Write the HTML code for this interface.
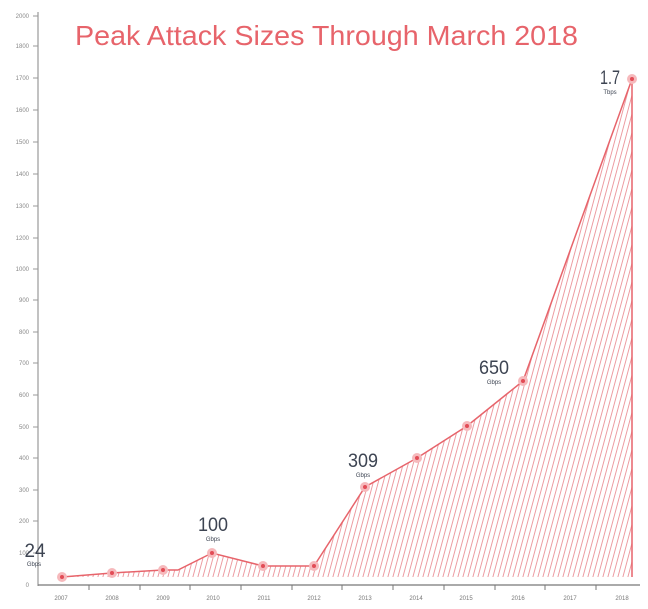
<!DOCTYPE html>
<html><head><meta charset="utf-8"><style>
html,body{margin:0;padding:0;background:#fff;}
svg{display:block;font-family:"Liberation Sans",sans-serif;}
</style></head><body>
<svg width="648" height="609" viewBox="0 0 648 609" xmlns="http://www.w3.org/2000/svg">
<defs>
<pattern id="h" patternUnits="userSpaceOnUse" width="5" height="20" patternTransform="skewX(-15)">
<line x1="2.5" y1="0" x2="2.5" y2="20" stroke="#ec9aa0" stroke-width="1"/>
</pattern>
</defs>
<rect width="648" height="609" fill="#fff"/>
<text x="75" y="45" font-size="28" fill="#e7646b" textLength="503" lengthAdjust="spacingAndGlyphs">Peak Attack Sizes Through March 2018</text>
<!-- axes -->
<line x1="38" y1="12" x2="38" y2="586" stroke="#999" stroke-width="1.2"/>
<line x1="38" y1="585" x2="640" y2="585" stroke="#777" stroke-width="1.2"/>
<g stroke="#999" stroke-width="1">
<line x1="33" y1="16" x2="38" y2="16"/><line x1="33" y1="46" x2="38" y2="46"/><line x1="33" y1="78" x2="38" y2="78"/><line x1="33" y1="110" x2="38" y2="110"/><line x1="33" y1="142" x2="38" y2="142"/><line x1="33" y1="174" x2="38" y2="174"/><line x1="33" y1="206" x2="38" y2="206"/><line x1="33" y1="238" x2="38" y2="238"/><line x1="33" y1="269" x2="38" y2="269"/><line x1="33" y1="300" x2="38" y2="300"/><line x1="33" y1="332" x2="38" y2="332"/><line x1="33" y1="363" x2="38" y2="363"/><line x1="33" y1="395" x2="38" y2="395"/><line x1="33" y1="427" x2="38" y2="427"/><line x1="33" y1="458" x2="38" y2="458"/><line x1="33" y1="490" x2="38" y2="490"/><line x1="33" y1="521" x2="38" y2="521"/><line x1="33" y1="553" x2="38" y2="553"/>
</g>
<g font-size="6" fill="#888" text-anchor="end">
<text x="29" y="18">2000</text><text x="29" y="48">1800</text><text x="29" y="80">1700</text><text x="29" y="112">1600</text><text x="29" y="144">1500</text><text x="29" y="176">1400</text><text x="29" y="208">1300</text><text x="29" y="240">1200</text><text x="29" y="271">1000</text><text x="29" y="302">900</text><text x="29" y="334">800</text><text x="29" y="365">700</text><text x="29" y="397">600</text><text x="29" y="429">500</text><text x="29" y="460">400</text><text x="29" y="492">300</text><text x="29" y="523">200</text><text x="29" y="555">100</text><text x="29" y="587">0</text>
</g>
<g stroke="#777" stroke-width="1">
<line x1="89" y1="585" x2="89" y2="590"/><line x1="140" y1="585" x2="140" y2="590"/><line x1="190" y1="585" x2="190" y2="590"/><line x1="241" y1="585" x2="241" y2="590"/><line x1="292" y1="585" x2="292" y2="590"/><line x1="342" y1="585" x2="342" y2="590"/><line x1="393" y1="585" x2="393" y2="590"/><line x1="444" y1="585" x2="444" y2="590"/><line x1="495" y1="585" x2="495" y2="590"/><line x1="545" y1="585" x2="545" y2="590"/><line x1="596" y1="585" x2="596" y2="590"/>
</g>
<g font-size="6" fill="#777" text-anchor="middle">
<text x="61" y="600">2007</text><text x="112" y="600">2008</text><text x="163" y="600">2009</text><text x="213" y="600">2010</text><text x="264" y="600">2011</text><text x="314" y="600">2012</text><text x="365" y="600">2013</text><text x="416" y="600">2014</text><text x="466" y="600">2015</text><text x="518" y="600">2016</text><text x="570" y="600">2017</text><text x="622" y="600">2018</text>
</g>
<!-- area -->
<path d="M62,577 L112,573 L163,570 L178,570 L212,553 L263,566 L314,566 L365,487 L417,458 L467,426 L523,381 L632,79 L632,577 Z" fill="url(#h)"/>
<polyline points="62,577 112,573 163,570 178,570 212,553 263,566 314,566 365,487 417,458 467,426 523,381 632,79 632,577" fill="none" stroke="#e7646b" stroke-width="1.5"/>
<g fill="#f6b9bc">
<circle cx="62" cy="577" r="5"/><circle cx="112" cy="573" r="5"/><circle cx="163" cy="570" r="5"/><circle cx="212" cy="553" r="5"/><circle cx="263" cy="566" r="5"/><circle cx="314" cy="566" r="5"/><circle cx="365" cy="487" r="5"/><circle cx="417" cy="458" r="5"/><circle cx="467" cy="426" r="5"/><circle cx="523" cy="381" r="5"/><circle cx="632" cy="79" r="5"/>
</g>
<g fill="#e24c56">
<circle cx="62" cy="577" r="2"/><circle cx="112" cy="573" r="2"/><circle cx="163" cy="570" r="2"/><circle cx="212" cy="553" r="2"/><circle cx="263" cy="566" r="2"/><circle cx="314" cy="566" r="2"/><circle cx="365" cy="487" r="2"/><circle cx="417" cy="458" r="2"/><circle cx="467" cy="426" r="2"/><circle cx="523" cy="381" r="2"/><circle cx="632" cy="79" r="2"/>
</g>
<!-- value labels -->
<g fill="#3d4452" text-anchor="middle">
<text x="35" y="557" font-size="19" textLength="21" lengthAdjust="spacingAndGlyphs">24</text>
<text x="34" y="566" font-size="6">Gbps</text>
<text x="213" y="531" font-size="19" textLength="30" lengthAdjust="spacingAndGlyphs">100</text>
<text x="213" y="541" font-size="6">Gbps</text>
<text x="363" y="467" font-size="19" textLength="30" lengthAdjust="spacingAndGlyphs">309</text>
<text x="363" y="477" font-size="6">Gbps</text>
<text x="494" y="374" font-size="19" textLength="30" lengthAdjust="spacingAndGlyphs">650</text>
<text x="494" y="384" font-size="6">Gbps</text>
<text x="610" y="84" font-size="19" textLength="20" lengthAdjust="spacingAndGlyphs">1.7</text>
<text x="610" y="94" font-size="6">Tbps</text>
</g>
</svg>
</body></html>
